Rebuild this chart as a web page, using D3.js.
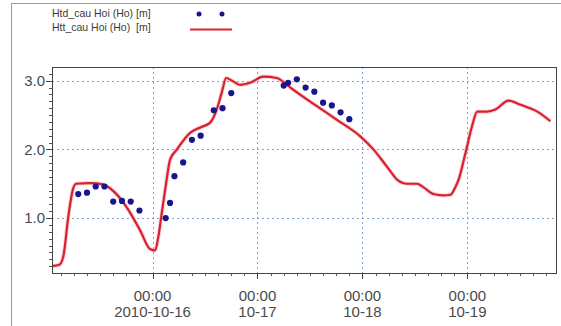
<!DOCTYPE html>
<html>
<head>
<meta charset="utf-8">
<script src="https://cdn.jsdelivr.net/npm/d3@7"></script>
<style>
  body { margin: 0; background: #fff; }
  svg { display: block; font-family: 'Liberation Sans', Arial, sans-serif; }
</style>
</head>
<body>
<div id="chart"></div>
<script>
// measured water level (dots), every ~2 h
const obsTimes = [
  '2010-10-15 07:00', '2010-10-15 09:00', '2010-10-15 11:00', '2010-10-15 13:00',
  '2010-10-15 15:00', '2010-10-15 17:00', '2010-10-15 19:00', '2010-10-15 21:00',
  '2010-10-16 03:00', '2010-10-16 04:00', '2010-10-16 05:00', '2010-10-16 07:00',
  '2010-10-16 09:00', '2010-10-16 11:00', '2010-10-16 14:00', '2010-10-16 16:00',
  '2010-10-16 18:00',
  '2010-10-17 06:00', '2010-10-17 07:00', '2010-10-17 09:00', '2010-10-17 11:00',
  '2010-10-17 13:00', '2010-10-17 15:00', '2010-10-17 17:00', '2010-10-17 19:00',
  '2010-10-17 21:00'
];
const obsValues = [
  1.35, 1.37, 1.46, 1.46,
  1.24, 1.25, 1.24, 1.11,
  1.00, 1.22, 1.61, 1.81,
  2.14, 2.20, 2.57, 2.60,
  2.82,
  2.93, 2.97, 3.02, 2.90,
  2.84, 2.68, 2.64, 2.54,
  2.44
];

// computed water level (red line)
const simTimes = [
  '2010-10-15 01:00', '2010-10-15 02:40', '2010-10-15 03:35', '2010-10-15 04:45',
  '2010-10-15 05:45', '2010-10-15 06:30', '2010-10-15 09:40', '2010-10-15 12:40',
  '2010-10-15 15:25', '2010-10-15 18:10', '2010-10-15 21:10', '2010-10-15 23:25',
  '2010-10-16 00:35', '2010-10-16 01:15', '2010-10-16 02:10', '2010-10-16 03:05',
  '2010-10-16 04:00', '2010-10-16 05:35', '2010-10-16 08:35', '2010-10-16 10:55',
  '2010-10-16 13:10', '2010-10-16 14:40', '2010-10-16 15:50', '2010-10-16 16:50',
  '2010-10-16 18:10', '2010-10-16 20:00', '2010-10-16 22:20', '2010-10-17 01:20',
  '2010-10-17 04:25', '2010-10-17 06:45', '2010-10-17 08:10', '2010-10-17 13:35',
  '2010-10-17 18:10', '2010-10-17 23:30', '2010-10-18 02:30', '2010-10-18 04:45',
  '2010-10-18 06:25', '2010-10-18 07:55', '2010-10-18 10:15', '2010-10-18 12:30',
  '2010-10-18 13:55', '2010-10-18 16:15', '2010-10-18 18:30', '2010-10-18 20:10',
  '2010-10-18 21:15', '2010-10-18 22:00', '2010-10-18 23:35', '2010-10-19 01:05',
  '2010-10-19 02:15', '2010-10-19 04:30', '2010-10-19 06:25', '2010-10-19 09:25',
  '2010-10-19 12:10', '2010-10-19 16:00', '2010-10-19 19:00'
];
const simValues = [
  0.30, 0.32, 0.44, 1.03,
  1.41, 1.50, 1.51, 1.49,
  1.37, 1.15, 0.82, 0.55,
  0.53, 0.70, 1.10, 1.50,
  1.85, 2.00, 2.24, 2.32,
  2.39, 2.58, 2.83, 3.04,
  3.00, 2.94, 2.97, 3.06,
  3.04, 2.94, 2.87, 2.63,
  2.43, 2.19, 2.00, 1.82,
  1.68, 1.56, 1.50, 1.50,
  1.45, 1.35, 1.33, 1.34,
  1.45, 1.56, 1.95, 2.34,
  2.55, 2.55, 2.58, 2.71,
  2.65, 2.55, 2.41
];

const xDomain = ['2010-10-15 01:00', '2010-10-19 20:30'];
const yDomain = [0.2, 3.2];
const yTicks = [1.0, 2.0, 3.0];
const dayTicks = ['2010-10-16 00:00', '2010-10-17 00:00', '2010-10-18 00:00', '2010-10-19 00:00'];
const dayLabels = ['2010-10-16', '10-17', '10-18', '10-19'];
const legendLabels = ['Htd_cau Hoi (Ho) [m]', 'Htt_cau Hoi (Ho)  [m]'];

const parse = d3.timeParse('%Y-%m-%d %H:%M');

const width = 561;
const height = 326;
const margin = { top: 67, right: 4, bottom: 53, left: 52 };
const plotW = width - margin.left - margin.right;
const plotH = height - margin.top - margin.bottom;

const x = d3.scaleTime().domain(xDomain.map(parse)).range([0, plotW]);
const y = d3.scaleLinear().domain(yDomain).range([plotH, 0]);

const svg = d3.select('#chart')
  .append('svg')
  .attr('width', width)
  .attr('height', height);

// outer frame
svg.append('rect')
  .attr('x', 11.5)
  .attr('y', 3.5)
  .attr('width', width)
  .attr('height', height)
  .attr('fill', 'none')
  .attr('stroke', '#9a9a9a');

// legend
const legend = svg.append('g')
  .attr('font-size', 10.5)
  .attr('fill', '#3a3a3a');
legend.selectAll('text')
  .data(legendLabels)
  .enter()
  .append('text')
  .attr('xml:space', 'preserve')
  .style('white-space', 'pre')
  .attr('x', 52)
  .attr('y', (d, i) => 17 + i * 14)
  .text((d) => d);
legend.selectAll('circle')
  .data([199, 222])
  .enter()
  .append('circle')
  .attr('cx', (d) => d)
  .attr('cy', 14)
  .attr('r', 2.5)
  .attr('fill', '#16168f');
legend.append('line')
  .attr('x1', 190).attr('x2', 232)
  .attr('y1', 29.5).attr('y2', 29.5)
  .attr('stroke', '#e3202c')
  .attr('stroke-width', 2);

const g = svg.append('g').attr('transform', `translate(${margin.left},${margin.top})`);

// grid
g.selectAll('.hgrid')
  .data(yTicks)
  .enter()
  .append('line')
  .attr('x1', 0).attr('x2', plotW)
  .attr('y1', (d) => Math.round(y(d)) + 0.5)
  .attr('y2', (d) => Math.round(y(d)) + 0.5)
  .attr('stroke', '#5b8fc9')
  .attr('stroke-opacity', 0.8)
  .attr('stroke-dasharray', '2,3');

g.selectAll('.vgrid')
  .data(dayTicks.map(parse))
  .enter()
  .append('line')
  .attr('x1', (d) => Math.round(x(d)) + 0.5)
  .attr('x2', (d) => Math.round(x(d)) + 0.5)
  .attr('y1', 0).attr('y2', plotH)
  .attr('stroke', '#5b8fc9')
  .attr('stroke-opacity', 0.8)
  .attr('stroke-dasharray', '2,3');

// simulated line
const simData = simTimes.map((t, i) => ({ t: parse(t), v: simValues[i] }));
const line = d3.line()
  .x((d) => x(d.t))
  .y((d) => y(d.v))
  .curve(d3.curveMonotoneX);

g.append('path')
  .datum(simData)
  .attr('fill', 'none')
  .attr('stroke', '#f4a0a8')
  .attr('stroke-width', 4)
  .attr('stroke-opacity', 0.5)
  .attr('d', line);

g.append('path')
  .datum(simData)
  .attr('fill', 'none')
  .attr('stroke', '#d9202e')
  .attr('stroke-width', 2.2)
  .attr('d', line);

// observed dots
const obsData = obsTimes.map((t, i) => ({ t: parse(t), v: obsValues[i] }));
g.selectAll('.obs')
  .data(obsData)
  .enter()
  .append('circle')
  .attr('cx', (d) => x(d.t))
  .attr('cy', (d) => y(d.v))
  .attr('r', 3.1)
  .attr('fill', '#16168f');

// plot border
g.append('rect')
  .attr('x', 0.5).attr('y', 0.5)
  .attr('width', plotW - 1).attr('height', plotH)
  .attr('fill', 'none')
  .attr('stroke', '#444');

// y axis
const yMinor = d3.range(3, 32).map((d) => d / 10);
g.selectAll('.yminor')
  .data(yMinor)
  .enter()
  .append('line')
  .attr('x1', -3).attr('x2', 0)
  .attr('y1', (d) => Math.round(y(d)) + 0.5)
  .attr('y2', (d) => Math.round(y(d)) + 0.5)
  .attr('stroke', '#555');

g.selectAll('.ymajor')
  .data(yTicks)
  .enter()
  .append('line')
  .attr('x1', -6).attr('x2', 0)
  .attr('y1', (d) => Math.round(y(d)) + 0.5)
  .attr('y2', (d) => Math.round(y(d)) + 0.5)
  .attr('stroke', '#444');

g.selectAll('.ylabel')
  .data(yTicks)
  .enter()
  .append('text')
  .attr('x', -7)
  .attr('y', (d) => y(d))
  .attr('dy', '0.36em')
  .attr('text-anchor', 'end')
  .attr('font-size', 15)
  .attr('fill', '#4a4a4a')
  .text((d) => d3.format('.1f')(d));

// x axis
const start = parse(xDomain[0]);
const end = parse(xDomain[1]);
const xMinor = d3.timeMinute.every(90).range(start, end)
  .filter((d) => (d.getHours() * 60 + d.getMinutes()) % 90 === 0);

g.selectAll('.xminor')
  .data(xMinor)
  .enter()
  .append('line')
  .attr('x1', (d) => Math.round(x(d)) + 0.5)
  .attr('x2', (d) => Math.round(x(d)) + 0.5)
  .attr('y1', plotH).attr('y2', plotH + 3)
  .attr('stroke', '#555');

g.selectAll('.xmajor')
  .data(dayTicks.map(parse))
  .enter()
  .append('line')
  .attr('x1', (d) => Math.round(x(d)) + 0.5)
  .attr('x2', (d) => Math.round(x(d)) + 0.5)
  .attr('y1', plotH).attr('y2', plotH + 6)
  .attr('stroke', '#444');

const xl = g.selectAll('.xlabel')
  .data(dayTicks.map(parse))
  .enter()
  .append('text')
  .attr('text-anchor', 'middle')
  .attr('font-size', 15)
  .attr('fill', '#4a4a4a');

xl.append('tspan')
  .attr('x', (d) => x(d))
  .attr('y', plotH + 28)
  .text((d) => d3.timeFormat('%H:%M')(d));

xl.append('tspan')
  .attr('x', (d) => x(d))
  .attr('y', plotH + 44)
  .text((d, i) => dayLabels[i]);
</script>
</body>
</html>
